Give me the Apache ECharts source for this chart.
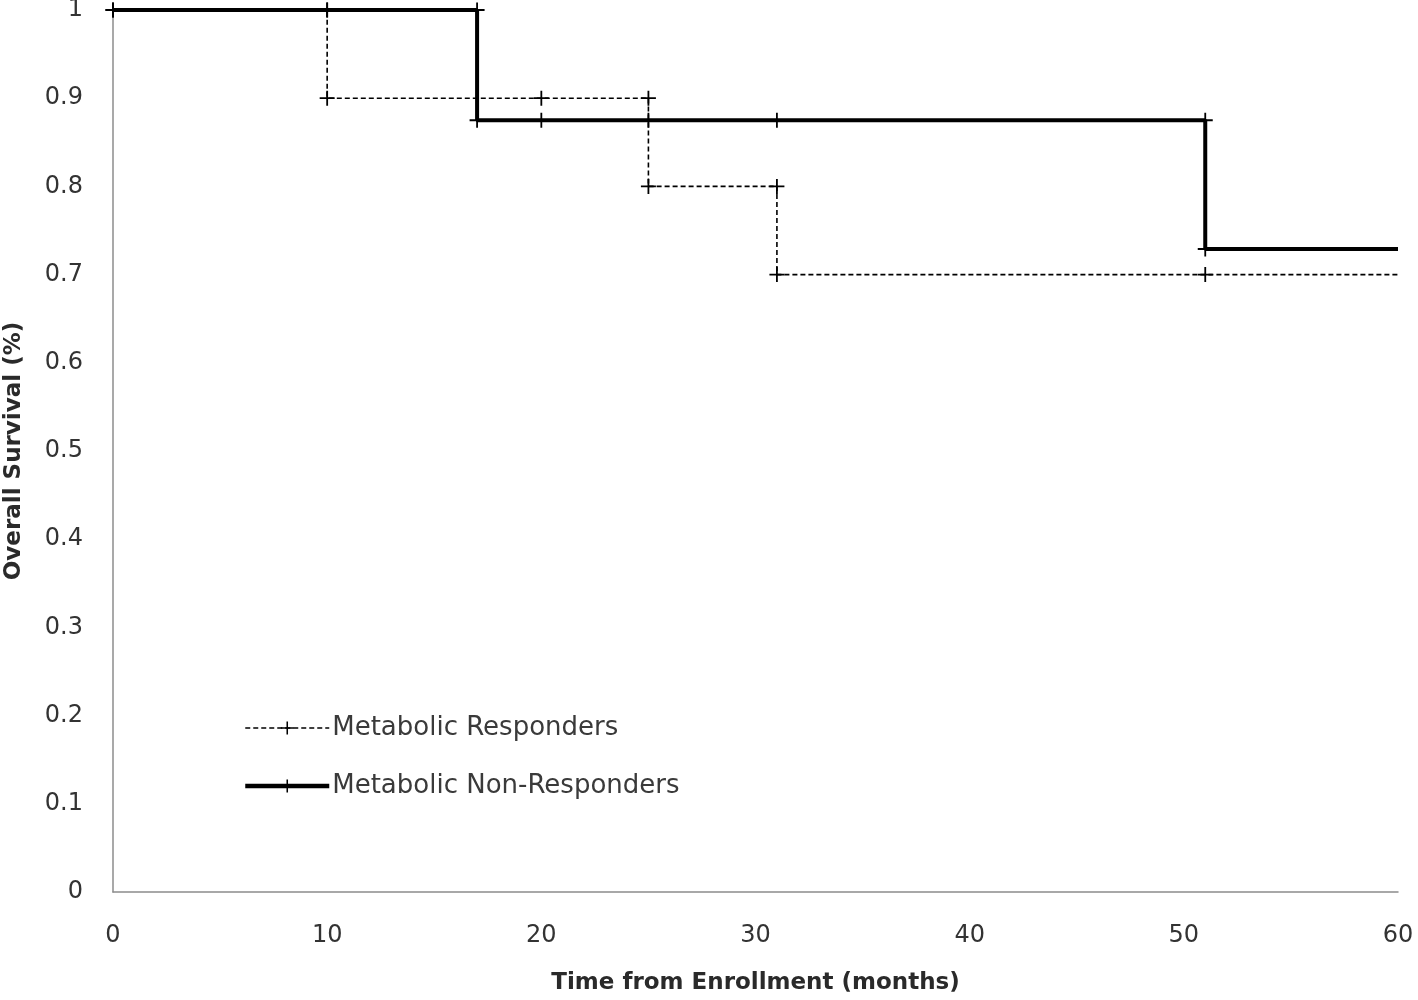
<!DOCTYPE html>
<html>
<head>
<meta charset="utf-8">
<script src="https://cdn.jsdelivr.net/npm/echarts@6/dist/echarts.min.js"></script>
<style>html,body{margin:0;padding:0;background:#fff}#c{width:1418px;height:1000px}</style>
</head>
<body>
<div id="c"></div>
<script>
// Kaplan-Meier step curves (time in months, survival fraction)
const respTimes = [0, 10, 10, 20, 25, 25, 31, 31, 51, 60];
const respSurv  = [1, 1, 0.9, 0.9, 0.9, 0.8, 0.8, 0.7, 0.7, 0.7];
const respMarked = [true, true, true, true, true, true, true, true, true, false];

const nonTimes = [0, 10, 17, 17, 20, 25, 31, 51, 51, 60];
const nonSurv  = [1, 1, 1, 0.875, 0.875, 0.875, 0.875, 0.875, 0.729, 0.729];
const nonMarked = [true, true, true, true, true, true, true, true, true, false];

const seriesNames = ['Metabolic Responders', 'Metabolic Non-Responders'];
const xTicks = [0, 10, 20, 30, 40, 50, 60];
const yTicks = [0, 0.1, 0.2, 0.3, 0.4, 0.5, 0.6, 0.7, 0.8, 0.9, 1];

const cross = 'path://M4.4,0 H5.6 V4.4 H10 V5.6 H5.6 V10 H4.4 V5.6 H0 V4.4 H4.4 Z';
const font = '"DejaVu Sans", "Open Sans", sans-serif';

function build(times, surv, marked) {
  return times.map((t, i) => marked[i] ? [t, surv[i]] : { value: [t, surv[i]], symbol: 'none' });
}

const chart = echarts.init(document.getElementById('c'));
chart.setOption({
  animation: false,
  backgroundColor: '#fff',
  textStyle: { fontFamily: font },
  grid: { left: 113, right: 20, top: 10, bottom: 108, containLabel: false, outerBoundsMode: 'none' },
  legend: {
    orient: 'vertical',
    left: 238,
    top: 710,
    itemGap: 32,
    itemWidth: 84,
    itemHeight: 16,
    textStyle: { fontSize: 26, color: '#3a3a3a', fontFamily: font, padding: [0, 0, 0, -2] },
    data: [
      { name: seriesNames[0], lineStyle: { width: 1.6, type: [5, 3] } },
      { name: seriesNames[1], lineStyle: { width: 4.5 } }
    ]
  },
  xAxis: {
    type: 'value',
    min: 0, max: 60, interval: 10,
    name: 'Time from Enrollment (months)',
    nameLocation: 'middle',
    nameGap: 80,
    nameTextStyle: { fontSize: 23, fontWeight: 'bold', color: '#2a2a2a', fontFamily: font },
    axisLine: { lineStyle: { color: '#8c8c8c', width: 1.5 } },
    axisTick: { show: false },
    splitLine: { show: false },
    axisLabel: { fontSize: 24, color: '#333', margin: 32 }
  },
  yAxis: {
    type: 'value',
    min: 0, max: 1, interval: 0.1,
    name: 'Overall Survival (%)',
    nameLocation: 'middle',
    nameGap: 87,
    nameTextStyle: { fontSize: 23, fontWeight: 'bold', color: '#2a2a2a', fontFamily: font },
    axisLine: { show: true, lineStyle: { color: '#8c8c8c', width: 1.5 } },
    axisTick: { show: false },
    splitLine: { show: false },
    axisLabel: { fontSize: 24, color: '#333', margin: 30, formatter: v => String(Math.round(v * 10) / 10) }
  },
  series: [
    {
      name: seriesNames[0],
      type: 'line',
      clip: false,
      symbol: cross,
      symbolSize: 15,
      showAllSymbol: true,
      itemStyle: { color: '#000' },
      lineStyle: { color: '#000', width: 1.6, type: [5, 3] },
      data: build(respTimes, respSurv, respMarked),
      z: 2
    },
    {
      name: seriesNames[1],
      type: 'line',
      clip: false,
      symbol: cross,
      symbolSize: 15,
      showAllSymbol: true,
      itemStyle: { color: '#000' },
      lineStyle: { color: '#000', width: 4 },
      data: build(nonTimes, nonSurv, nonMarked),
      z: 3
    }
  ]
});
</script>
</body>
</html>
